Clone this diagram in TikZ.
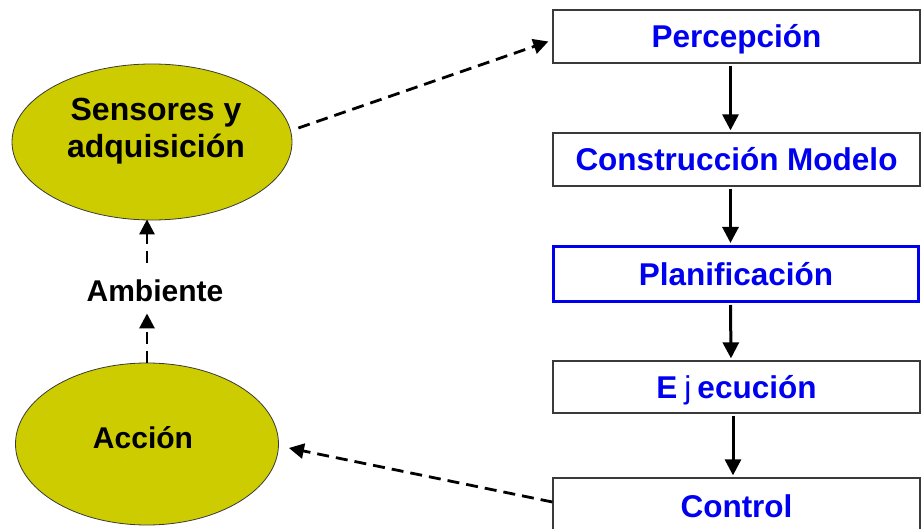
\documentclass[tikz,border=0pt]{standalone}
\usepackage{fontspec}
\setmainfont{Liberation Sans}
\usetikzlibrary{shapes.geometric,arrows.meta,calc}
\definecolor{olivefill}{HTML}{CCCC00}
\definecolor{boxline}{HTML}{3A3A3A}
\definecolor{stepblue}{HTML}{0000F0}
\tikzset{
  blob/.style={ellipse,draw=boxline,line width=0.8pt,fill=olivefill,inner sep=0pt},
  blobtext/.style={inner sep=0pt,align=center,font=\fontsize{32}{37}\selectfont\bfseries},
  stage/.style={rectangle,draw=boxline,line width=1.3pt,fill=white,inner sep=0pt,
    minimum width=367pt,minimum height=53pt,text=stepblue,
    text height=22.5pt,text depth=0pt,
    font=\fontsize{31.5}{36}\selectfont\bfseries},
  solidarr/.style={line width=3pt,-{Triangle[length=16pt,width=16pt]}},
  dasharr/.style={line width=2.8pt,dash pattern=on 12pt off 7pt,-{Triangle[length=15pt,width=15pt]}}
}
\begin{document}
\begin{tikzpicture}[x=1pt,y=-1pt]
\useasboundingbox (0,0) rectangle (922,529);
\fill[white] (0,0) rectangle (922,529);

% left cycle: sensing, environment, acting
\node[blob,minimum width=280pt,minimum height=156pt] (sens) at (152,142) {};
\node[blobtext] (senstxt) at (156,131) {Sensores y\\adquisición};
\node[blob,minimum width=263pt,minimum height=162pt] (acc) at (147,444) {};
\node[blobtext,font=\fontsize{30}{35}\selectfont\bfseries,text height=21.5pt,text depth=0pt] (acctxt) at (143,437.5) {Acción};
\node[inner sep=0pt,font=\fontsize{30}{35}\selectfont\bfseries,text height=21.5pt,text depth=0pt] (amb) at (155,290.5) {Ambiente};

% right column: processing stages
\begin{scope}
\clip (0,0) rectangle (922,529);
\node[stage] (perc) at (736.5,36.5) {Percepción};
\node[stage] (cons) at (736.5,159.5) {Construcción Modelo};
\node[stage,draw=stepblue,line width=3pt,minimum width=365pt,minimum height=55pt] (plan) at (736,274) {Planificación};
\node[stage,minimum height=52pt] (ejec) at (736.5,387) {E\hspace{7pt}{\mdseries j}\hspace{6pt}ecución};
\node[stage,minimum height=56pt] (ctrl) at (736.5,506) {Control};
\end{scope}

% stage-to-stage arrows
\draw[solidarr,shorten <=2pt,shorten >=2pt] ($(perc.south)+(-6,0)$) -- ($(cons.north)+(-6,0)$);
\draw[solidarr,shorten <=2pt,shorten >=2pt] ($(cons.south)+(-6,0)$) -- ($(plan.north)+(-5.5,0)$);
\draw[solidarr,shorten <=2pt,shorten >=2pt] ($(plan.south)+(-5.5,0)$) -- ($(ejec.north)+(-5.5,0)$);
\draw[solidarr,shorten <=2pt,shorten >=2pt] ($(ejec.south)+(-3.5,0)$) -- ($(ctrl.north)+(-3.5,0)$);

% dashed links between the two sides
\draw[dasharr] ($(sens.east)+(6,-14)$) -- ($(perc.west)+(-4,5)$);
\draw[dasharr] ($(ctrl.west)+(0,-4)$) -- ($(acc.east)+(10,4)$);
\draw[dasharr,shorten >=12pt] (acc.north) -- (amb.south -| acc.north);
\draw[dasharr,shorten <=17pt,shorten >=-1pt] (amb.north -| acc.north) -- (sens.south -| acc.north);
\end{tikzpicture}
\end{document}
